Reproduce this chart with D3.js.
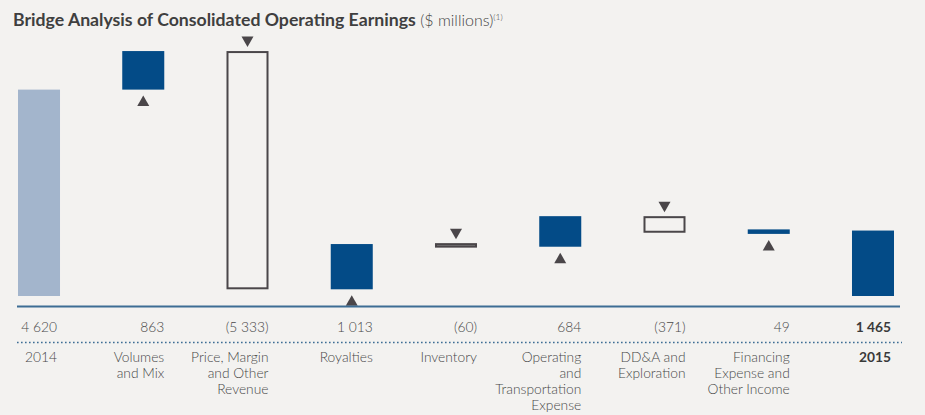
<!DOCTYPE html>
<html>
<head>
<meta charset="utf-8">
<script src="https://cdn.jsdelivr.net/npm/d3@7"></script>
<style>
  html, body { margin: 0; padding: 0; background: #f3f2f0; }
  svg { display: block; }
  text { font-family: Lato, "Open Sans", sans-serif; }
</style>
</head>
<body>
<svg id="chart" width="925" height="415"></svg>
<script>
// ---- data ----
const categories = ["2014", "Volumes and Mix", "Price, Margin and Other Revenue", "Royalties", "Inventory",
  "Operating and Transportation Expense", "DD&A and Exploration", "Financing Expense and Other Income", "2015"];
const labelLines = [["2014"], ["Volumes", "and Mix"], ["Price, Margin", "and Other", "Revenue"], ["Royalties"],
  ["Inventory"], ["Operating", "and", "Transportation", "Expense"], ["DD&A and", "Exploration"],
  ["Financing", "Expense and", "Other Income"], ["2015"]];
const values = [4620, 863, -5333, 1013, -60, 684, -371, 49, 1465];
const valueLabels = ["4 620", "863", "(5 333)", "1 013", "(60)", "684", "(371)", "49", "1 465"];
const kinds = ["total", "delta", "delta", "delta", "delta", "delta", "delta", "delta", "total"];

// ---- layout ----
const W = 925, H = 415;
const svg = d3.select("#chart");
svg.append("rect").attr("width", W).attr("height", H).attr("fill", "#f3f2f0");

const x = d3.scaleBand().domain(categories).range([18, 894]).paddingInner(0.597).paddingOuter(0);
const y = d3.scaleLinear().domain([0, 5500]).range([296, 50.3]);

// waterfall geometry
let cum = 0;
const bars = categories.map((c, i) => {
  const v = values[i];
  let lo, hi;
  if (kinds[i] === "total") { lo = 0; hi = v; cum = v; }
  else { const s = cum; cum += v; lo = Math.min(s, cum); hi = Math.max(s, cum); }
  return { c, v, i, kind: kinds[i], lo, hi };
});

const g = svg.append("g");

bars.forEach(b => {
  const x0 = x(b.c), bw = x.bandwidth();
  let yTop = y(b.hi), yBot = y(b.lo);
  const minH = 4.5;
  if (yBot - yTop < minH) { const mid = (yTop + yBot) / 2; yTop = mid - minH / 2; yBot = mid + minH / 2; }
  if (b.kind === "total") {
    g.append("rect").attr("x", x0).attr("y", yTop).attr("width", bw).attr("height", yBot - yTop)
      .attr("fill", b.i === 0 ? "#a3b5cc" : "#034b87");
  } else if (b.v > 0) {
    g.append("rect").attr("x", x0).attr("y", yTop).attr("width", bw).attr("height", yBot - yTop)
      .attr("fill", "#034b87");
    const cx = x0 + bw / 2, t = yBot + 6;
    g.append("path").attr("d", `M${cx},${t} L${cx + 6},${t + 10.5} L${cx - 6},${t + 10.5} Z`).attr("fill", "#4a4649");
  } else {
    g.append("rect").attr("x", x0 + 1).attr("y", yTop + 1).attr("width", bw - 2).attr("height", Math.max(yBot - yTop - 2, 1))
      .attr("fill", b.v > -100 ? "#8a8a8a" : "none").attr("stroke", "#4a4649").attr("stroke-width", 2);
    const cx = x0 + bw / 2, t = yTop - 4;
    g.append("path").attr("d", `M${cx},${t} L${cx + 6},${t - 10.5} L${cx - 6},${t - 10.5} Z`).attr("fill", "#4a4649");
  }
});

// axis line
svg.append("line").attr("x1", 17).attr("x2", 900).attr("y1", 306.5).attr("y2", 306.5)
  .attr("stroke", "#3d6d94").attr("stroke-width", 2);

// value row
const txtColor = "#484848";
const fs = 13.8;
svg.append("g").selectAll("text").data(bars).join("text")
  .attr("x", d => x(d.c) + x.bandwidth() - (d.kind === "total" ? 3 : 0))
  .attr("y", 331.5)
  .attr("text-anchor", "end")
  .attr("font-size", fs)
  .attr("font-weight", d => d.i === 8 ? 700 : 300)
  .attr("fill", d => d.i === 8 ? "#3a3a3a" : txtColor)
  .text(d => valueLabels[d.i]);

// dotted separator
svg.append("line").attr("x1", 17).attr("x2", 902).attr("y1", 342.5).attr("y2", 342.5)
  .attr("stroke", "#3d6d94").attr("stroke-width", 1.6).attr("stroke-dasharray", "1.6,2.4");

// category labels
const lg = svg.append("g");
bars.forEach(b => {
  const tx = x(b.c) + x.bandwidth() - (b.kind === "total" ? 3 : 0);
  const t = lg.append("text")
    .attr("x", tx)
    .attr("y", 361.5)
    .attr("text-anchor", "end")
    .attr("font-size", fs)
    .attr("font-weight", b.i === 8 ? 700 : 300)
    .attr("fill", b.i === 8 ? "#3a3a3a" : txtColor);
  labelLines[b.i].forEach((ln, k) => {
    t.append("tspan").attr("x", tx).attr("dy", k === 0 ? 0 : 16).text(ln);
  });
});

// title
const title = svg.append("text").attr("x", 13).attr("y", 26).attr("fill", "#3f3f3f");
const tb = title.append("tspan").attr("font-weight", 700).attr("font-size", 17.5)
  .text("Bridge Analysis of Consolidated Operating Earnings");
const len = tb.node().getComputedTextLength();
if (len > 0) tb.attr("font-size", Math.min(18.5, 17.5 * 403 / len));
title.append("tspan").attr("font-size", 16).attr("font-weight", 300).attr("fill", "#444").text(" ($ millions)");
title.append("tspan").attr("font-size", 8.5).attr("font-weight", 300).attr("dy", -6).attr("fill", "#444").text("(1)");
</script>
</body>
</html>
